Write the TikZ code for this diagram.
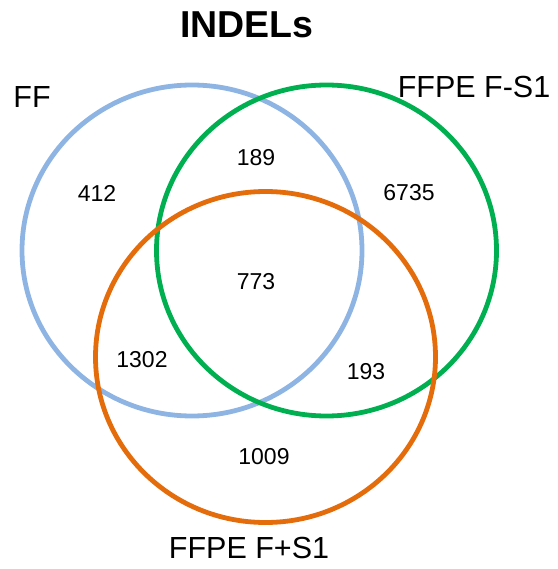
\documentclass[tikz,border=0pt]{standalone}
\usepackage{fontspec}
\setmainfont{Liberation Sans}
\usetikzlibrary{shapes.geometric}
\definecolor{ffblue}{RGB}{142,180,227}
\definecolor{fgreen}{RGB}{0,176,80}
\definecolor{forange}{RGB}{228,108,10}
\tikzset{
  setring/.style={ellipse, draw=#1, line width=4.8pt, minimum width=340pt, minimum height=331pt, inner sep=0pt},
  count/.style={font=\fontsize{23}{27}\selectfont, inner sep=0pt},
  setlabel/.style={font=\fontsize{30.5}{36}\selectfont, inner sep=0pt},
}
\begin{document}
\begin{tikzpicture}[x=1pt, y=-1pt]
\useasboundingbox (0,0) rectangle (557,569);
\node[setring=ffblue] (ff) at (192,250.5) {};
\node[setring=fgreen] (fs) at (326.5,250.5) {};
\node[setring=forange] (fp) at (265.5,357) {};
\node[font=\bfseries\fontsize{37.5}{43}\selectfont, inner sep=0pt] (title) at (247,25) {INDELs};
\node[setlabel] (lff) at (32,97) {FF};
\node[setlabel] (lfs) at (474,87) {FFPE F-S1};
\node[setlabel] (lfp) at (249,548) {FFPE F+S1};
\node[count] (n1) at (97,193) {412};
\node[count] (n2) at (256,158) {189};
\node[count] (n3) at (409,193) {6735};
\node[count] (n4) at (256,282) {773};
\node[count] (n5) at (142,360) {1302};
\node[count] (n6) at (366,372) {193};
\node[count] (n7) at (264,457) {1009};
\end{tikzpicture}
\end{document}
